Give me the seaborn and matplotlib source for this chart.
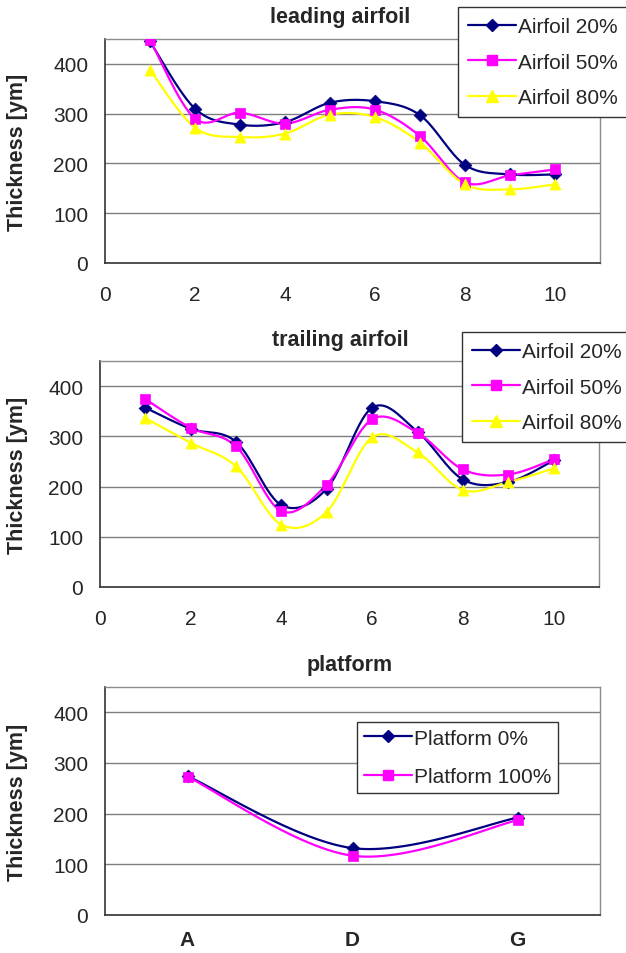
import numpy as np
import matplotlib
matplotlib.use("Agg")
import matplotlib.pyplot as plt
from matplotlib.lines import Line2D
import seaborn as sns

# ---------------- data ----------------
positions = [1, 2, 3, 4, 5, 6, 7, 8, 9, 10]

leading_20 = [445, 310, 278, 283, 322, 325, 297, 197, 178, 178]
leading_50 = [448, 290, 302, 280, 308, 308, 255, 162, 176, 188]
leading_80 = [388, 272, 253, 260, 298, 293, 242, 158, 148, 158]

trailing_20 = [357, 315, 289, 163, 196, 357, 309, 214, 209, 252]
trailing_50 = [374, 317, 280, 151, 204, 334, 307, 234, 224, 254]
trailing_80 = [336, 287, 240, 124, 150, 298, 268, 193, 209, 236]

platform_cats = ["A", "D", "G"]
platform_0 = [274, 132, 192]
platform_100 = [273, 117, 187]

airfoil_labels = ["Airfoil 20%", "Airfoil 50%", "Airfoil 80%"]
platform_labels = ["Platform 0%", "Platform 100%"]

# ---------------- style ----------------
sns.set_style("white")
plt.rcParams["font.family"] = ["Liberation Sans", "DejaVu Sans"]

NAVY = "#000080"
MAGENTA = "#FF00FF"
YELLOW = "#FFFF00"
colors = [NAVY, MAGENTA, YELLOW]
markers = ["D", "s", "^"]
msizes = [6.5, 7, 8]

TICK_FS = 15
LABEL_FS = 15.5
TITLE_FS = 15.5
LEG_FS = 15


def smooth(x, y, n=30):
    """Excel-like smoothed line (Bezier with 1/6 tension)."""
    x = np.asarray(x, float)
    y = np.asarray(y, float)
    P = np.column_stack([x, y])
    Pe = np.vstack([P[0], P, P[-1]])
    out = []
    t = np.linspace(0, 1, n)
    for i in range(len(P) - 1):
        p0, p1, p2, p3 = Pe[i], Pe[i + 1], Pe[i + 2], Pe[i + 3]
        c1 = p1 + (p2 - p0) / 6.0
        c2 = p2 - (p3 - p1) / 6.0
        seg = ((1 - t) ** 3)[:, None] * p1 + (3 * (1 - t) ** 2 * t)[:, None] * c1 \
            + (3 * (1 - t) * t ** 2)[:, None] * c2 + (t ** 3)[:, None] * p2
        out.append(seg if i == 0 else seg[1:])
    S = np.vstack(out)
    return S[:, 0], S[:, 1]


fig = plt.figure(figsize=(6.26, 9.54), dpi=100)
W, H = 626, 954


def add_ax(left, top, right, bottom):
    return fig.add_axes([left / W, 1 - bottom / H, (right - left) / W, (bottom - top) / H])


def style_ax(ax, label_x):
    ax.set_ylim(0, 450)
    ax.set_yticks([0, 100, 200, 300, 400])
    ax.yaxis.grid(True, color="#7f7f7f", linewidth=1.0)
    ax.set_axisbelow(True)
    for s in ["top", "right"]:
        ax.spines[s].set_color("#8c8c8c")
        ax.spines[s].set_linewidth(1.0)
    for s in ["left", "bottom"]:
        ax.spines[s].set_color("#333333")
        ax.spines[s].set_linewidth(1.2)
    ax.tick_params(axis="both", which="both", direction="out", length=5, width=1,
                   color="#333333", labelsize=TICK_FS)
    ax.tick_params(axis="y", pad=7)
    ax.tick_params(axis="x", pad=11)
    ax.set_ylabel("Thickness [ym]", fontsize=LABEL_FS, fontweight="bold")
    ax.yaxis.set_label_coords(label_x, 0.5)


def draw_series(ax, x, y, color, marker, ms):
    xs, ys = smooth(x, y)
    sns.lineplot(x=xs, y=ys, sort=False, estimator=None, color=color, linewidth=1.6, ax=ax)
    sns.scatterplot(x=x, y=y, color=color, marker=marker, s=ms ** 2, edgecolor=color,
                    linewidth=0.5, ax=ax, zorder=3)


def handles(n):
    return [Line2D([0], [0], color=colors[i], marker=markers[i], markersize=msizes[i],
                   linewidth=1.6, markeredgecolor=colors[i]) for i in range(n)]


def make_legend(labels, left_px, top_px, spacing, borderpad):
    leg = fig.legend(handles=handles(len(labels)), labels=labels,
                     loc="upper left", bbox_to_anchor=(left_px / W, 1 - top_px / H),
                     fontsize=LEG_FS, frameon=True, fancybox=False, edgecolor="#333333",
                     framealpha=1, handlelength=2.3, handletextpad=0.1,
                     borderpad=borderpad, labelspacing=spacing, borderaxespad=0)
    leg.get_frame().set_linewidth(1.0)
    return leg


# ---------------- leading airfoil ----------------
ax1 = add_ax(105, 40, 600, 264)
for ys, c, m, ms in zip([leading_20, leading_50, leading_80], colors, markers, msizes):
    draw_series(ax1, positions, ys, c, m, ms)
style_ax(ax1, -0.156)
ax1.set_xlim(0, 11)
ax1.set_xticks([0, 2, 4, 6, 8, 10])
make_legend(airfoil_labels, 458, 8, 0.78, 0.5)
fig.text(340 / W, 1 - 18 / H, "leading airfoil", ha="center", va="center",
         fontsize=TITLE_FS, fontweight="bold")

# ---------------- trailing airfoil ----------------
ax2 = add_ax(100, 362, 599, 588)
for ys, c, m, ms in zip([trailing_20, trailing_50, trailing_80], colors, markers, msizes):
    draw_series(ax2, positions, ys, c, m, ms)
style_ax(ax2, -0.144)
ax2.set_xlim(0, 11)
ax2.set_xticks([0, 2, 4, 6, 8, 10])
make_legend(airfoil_labels, 462, 333, 0.78, 0.5)
fig.text(340 / W, 1 - 341 / H, "trailing airfoil", ha="center", va="center",
         fontsize=TITLE_FS, fontweight="bold")

# ---------------- platform ----------------
ax3 = add_ax(105, 688, 600, 916)
xcat = [i + 0.5 for i in range(len(platform_cats))]
for ys, c, m, ms in zip([platform_0, platform_100], colors[:2], markers[:2], msizes[:2]):
    draw_series(ax3, xcat, ys, c, m, ms)
style_ax(ax3, -0.156)
ax3.set_xlim(0, 3)
ax3.set_xticks([0, 1, 2, 3])
ax3.set_xticklabels([])
ax3.set_xticks(xcat, minor=True)
ax3.set_xticklabels(platform_cats, minor=True, fontsize=15, fontweight="bold")
ax3.tick_params(axis="x", which="minor", length=0, pad=11)
make_legend(platform_labels, 357, 723, 0.93, 0.32)
fig.text(350 / W, 1 - 666 / H, "platform", ha="center", va="center",
         fontsize=TITLE_FS, fontweight="bold")

fig.savefig("out.png", dpi=100, facecolor="white")
